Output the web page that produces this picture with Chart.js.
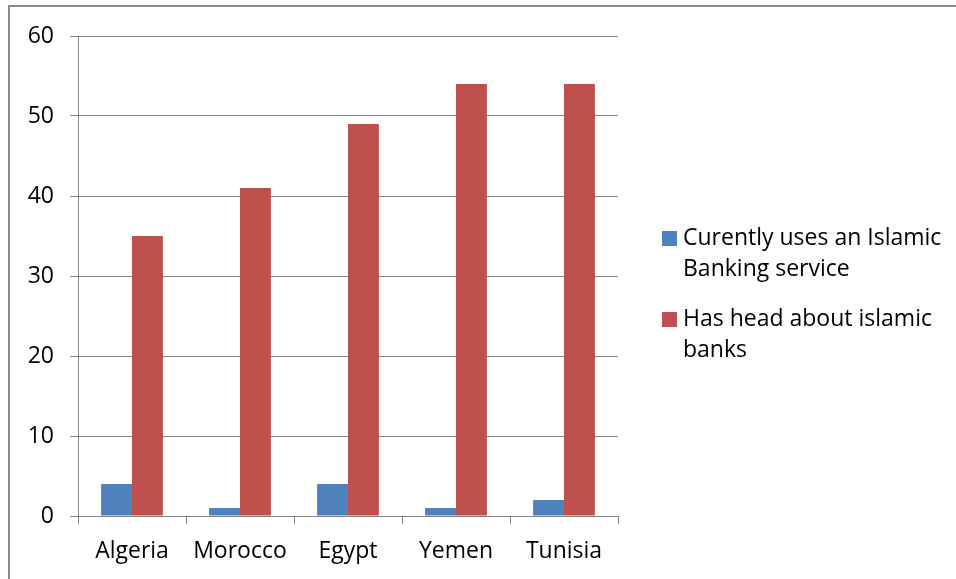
<!DOCTYPE html>
<html>
<head>
  <meta charset="UTF-8">
  <title>Islamic banking survey</title>
  <script src="https://cdn.jsdelivr.net/npm/chart.js"></script>
  <style>
    body { margin: 0; background: #fff; overflow: hidden; }
    canvas { display: block; }
  </style>
</head>
<body>
  <canvas id="bank-chart" width="956" height="579"></canvas>

  <script>
    // data
    const countries = ['Algeria', 'Morocco', 'Egypt', 'Yemen', 'Tunisia'];
    const usesIslamic = [4, 1, 4, 1, 2];
    const heardIslamic = [35, 41, 49, 54, 54];
    const seriesLines = [
      ['Curently uses an Islamic', 'Banking service'],
      ['Has head about islamic', 'banks']
    ];
    const yTicks = [0, 10, 20, 30, 40, 50, 60];

    const gridGray = '#868686';
    const fontName = '"Open Sans", Lato, sans-serif';
    const fontSize = 23;

    // frame around the chart + legend with wrapped lines
    const framePlugin = {
      id: 'frame',
      beforeDraw(chart) {
        const ctx = chart.ctx;
        ctx.save();
        ctx.strokeStyle = '#8a8a8a';
        ctx.lineWidth = 2;
        ctx.strokeRect(9, 6, 2000, 2000);
        ctx.restore();
      },
      afterDraw(chart) {
        const ctx = chart.ctx;
        ctx.save();
        ctx.font = fontSize + 'px ' + fontName;
        ctx.textBaseline = 'middle';
        const tops = [231, 312];
        chart.data.datasets.forEach((ds, i) => {
          const y = tops[i];
          ctx.fillStyle = ds.backgroundColor;
          ctx.fillRect(662, y, 15, 15);
          ctx.fillStyle = '#000';
          seriesLines[i].forEach((line, j) => {
            ctx.fillText(line, 683, y + 7 + j * 31);
          });
        });
        ctx.restore();
      }
    };

    const ctx = document.getElementById('bank-chart').getContext('2d');
    new Chart(ctx, {
      type: 'bar',
      data: {
        labels: countries,
        datasets: [{
          label: seriesLines[0].join(' '),
          data: usesIslamic,
          backgroundColor: '#4F81BD'
        }, {
          label: seriesLines[1].join(' '),
          data: heardIslamic,
          backgroundColor: '#C0504D'
        }]
      },
      options: {
        responsive: false,
        animation: false,
        layout: { padding: { left: 0, top: 36, right: 338, bottom: 0 } },
        datasets: {
          bar: { categoryPercentage: 0.572, barPercentage: 1.0 }
        },
        plugins: {
          legend: { display: false },
          tooltip: { enabled: false }
        },
        scales: {
          x: {
            offset: true,
            grid: {
              offset: true,
              drawOnChartArea: false,
              color: gridGray,
              tickLength: 8
            },
            border: { color: gridGray },
            ticks: {
              color: '#000',
              font: { family: fontName, size: fontSize },
              padding: 14
            },
            afterFit(scale) { scale.height = 63; }
          },
          y: {
            min: 0,
            max: 60,
            afterBuildTicks(scale) {
              scale.ticks = yTicks.map(v => ({ value: v }));
            },
            grid: { color: gridGray, tickLength: 8 },
            border: { color: gridGray },
            ticks: {
              color: '#000',
              font: { family: fontName, size: fontSize },
              padding: 16
            },
            afterFit(scale) { scale.width = 78; }
          }
        }
      },
      plugins: [framePlugin]
    });
  </script>
</body>
</html>
